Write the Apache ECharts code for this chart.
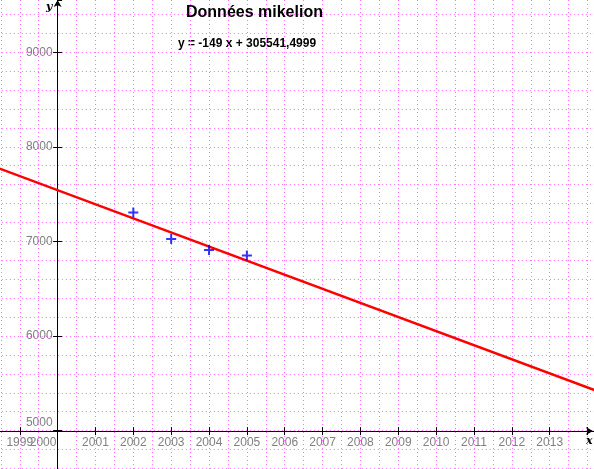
<!DOCTYPE html>
<html>
<head>
<meta charset="utf-8">
<script src="https://cdn.jsdelivr.net/npm/echarts@6/dist/echarts.min.js"></script>
<style>
html,body{margin:0;padding:0;background:#fff;}
#c{width:594px;height:469px;}
</style>
</head>
<body>
<div id="c"></div>
<script>
// Data
var years = [2002, 2003, 2004, 2005];
var values = [7305, 7025, 6910, 6850];
var fitX = [1998.4, 2014.3];
var fitY = [7780, 5411];
var xTickLabels = ['1999','2000','2001','2002','2003','2004','2005','2006','2007','2008','2009','2010','2011','2012','2013'];
var yTickLabels = ['5000','6000','7000','8000','9000'];
var titleText = 'Données mikelion';
var equationText = 'y = -149 x + 305541,4999';

var X_MIN = 1998, X_MAX = 2014.17, Y_MIN = 4000, Y_MAX = 9552;
var gridBox = {left: -18.1, top: 0, width: 612.1, height: 525.2};

var chart = echarts.init(document.getElementById('c'), null, {renderer: 'canvas'});

var scatterData = years.map(function (y, i) { return [y, values[i]]; });
var fitData = fitX.map(function (x, i) { return [x, fitY[i]]; });

var pink = '#ff70ff';
var gray = '#808080';
var font = 'Arial, "Liberation Sans", sans-serif';

function baseX(extra) {
  return Object.assign({
    type: 'value', gridIndex: 0, min: X_MIN, max: X_MAX,
    axisLine: {show: false}, axisTick: {show: false}, axisLabel: {show: false},
    splitLine: {show: false}
  }, extra);
}
function baseY(extra) {
  return Object.assign({
    type: 'value', gridIndex: 0, min: Y_MIN, max: Y_MAX,
    axisLine: {show: false}, axisTick: {show: false}, axisLabel: {show: false},
    splitLine: {show: false}
  }, extra);
}

var option = {
  animation: false,
  backgroundColor: '#ffffff',
  grid: [Object.assign({containLabel: false, outerBoundsMode: 'none'}, gridBox)],
  title: {
    text: titleText,
    left: 181, top: 0,
    textStyle: {fontFamily: font, fontWeight: 'bold', fontSize: 16, color: '#000'}
  },
  xAxis: [
    baseX({interval: 0.5, splitLine: {show: true, showMaxLine: false, lineStyle: {color: pink, type: [1, 3], width: 1}}}),
    baseX({
      interval: 1, position: 'bottom', offset: -94.1,
      axisLine: {show: true, onZero: false, lineStyle: {color: '#000', width: 1}, symbol: ['none', 'arrow'], symbolSize: [6, 7], symbolOffset: [0, -1]},
      axisTick: {show: true, length: 4, lineStyle: {color: '#000'}},
      axisLabel: {
        show: true, margin: 6, color: gray, fontFamily: font, fontSize: 12,
        showMaxLabel: false, showMinLabel: false,
        formatter: function (v) {
          var s = String(Math.round(v));
          if (Math.abs(v - Math.round(v)) > 1e-6) return '';
          if (xTickLabels.indexOf(s) < 0) return '';
          if (s === '2000') return '{l|' + s + '}';
          return s;
        },
        rich: {l: {color: gray, fontFamily: font, fontSize: 12, padding: [0, 29, 0, 0]}}
      }
    }),
    baseX({
      interval: 1, position: 'bottom', offset: -94.1,
      axisTick: {show: true, inside: true, length: 4, lineStyle: {color: '#000'}}
    })
  ],
  yAxis: [
    baseY({interval: 200, splitLine: {show: true, showMaxLine: false, lineStyle: {color: pink, type: [1, 3], width: 1}}}),
    baseY({
      interval: 1000, position: 'left', offset: -75.7,
      axisLine: {show: true, onZero: false, lineStyle: {color: '#000', width: 1}, symbol: ['none', 'arrow'], symbolSize: [6, 7]},
      axisTick: {show: true, length: 4.5, lineStyle: {color: '#000'}},
      axisLabel: {
        show: true, margin: 5, color: gray, fontFamily: font, fontSize: 12,
        showMaxLabel: false,
        formatter: function (v) {
          var s = String(Math.round(v));
          if (yTickLabels.indexOf(s) < 0) return '';
          if (s === '5000') return '{b|' + s + '}';
          return s;
        },
        rich: {b: {color: gray, fontFamily: font, fontSize: 12, padding: [0, 0, 16, 0]}}
      }
    }),
    baseY({
      interval: 1000, position: 'left', offset: -75.7,
      axisTick: {show: true, inside: true, length: 4.5, lineStyle: {color: '#000'}}
    })
  ],
  graphic: [
    {type: 'text', left: 178, top: 38, style: {text: equationText, font: 'bold 12px ' + font, fill: '#000'}},
    {type: 'text', left: 46, top: 2, style: {text: 'y', font: 'italic bold 11px "DejaVu Serif", serif', fill: '#000'}},
    {type: 'text', left: 586, top: 436, style: {text: 'x', font: 'italic bold 11px "DejaVu Serif", serif', fill: '#000'}}
  ],
  series: [
    {
      type: 'line', xAxisIndex: 0, yAxisIndex: 0, data: fitData,
      showSymbol: false, symbol: 'none', lineStyle: {color: '#ff0000', width: 2.5}, z: 3, silent: true
    },
    {
      type: 'scatter', xAxisIndex: 0, yAxisIndex: 0, data: scatterData,
      symbol: 'path://M4,0h2v10h-2zM0,4h10v2h-10z', symbolSize: 10,
      itemStyle: {color: '#0000ff'}, z: 4, silent: true
    }
  ]
};
chart.setOption(option);
</script>
</body>
</html>
